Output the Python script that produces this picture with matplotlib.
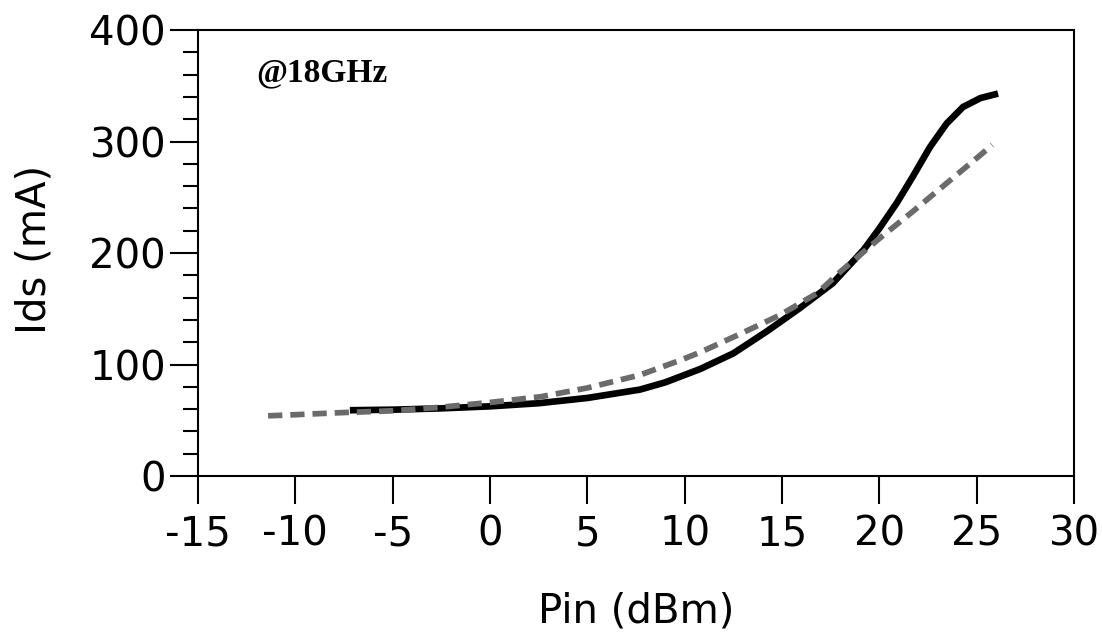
import matplotlib
matplotlib.use("Agg")
from matplotlib import pyplot as plt
from matplotlib.ticker import MultipleLocator

plt.rcParams["font.family"] = "DejaVu Sans"
plt.rcParams["axes.unicode_minus"] = False

# measured Ids vs Pin (solid)
pin_meas = [-7.2, -5, -2.5, 0, 2.5, 5, 7.7, 9, 10.8, 12.5, 14.2, 15.9, 17.6, 18.3, 19.2, 20, 20.9, 21.7, 22.6, 23.45, 24.3, 25.2, 26.1]
ids_meas = [59, 59.5, 60.7, 62.5, 65.3, 70, 77.5, 84, 96, 110, 129.5, 150.4, 172.8, 186, 203, 222, 245, 268, 295, 316, 331, 339, 343]

# simulated Ids vs Pin (dashed)
pin_sim = [-11.4, -10, -7.7, -5, -2.6, 0, 2.6, 5, 7.7, 9.8, 10.8, 12.8, 14.9, 16.8, 18.1, 20, 21.7, 23.45, 25.2, 25.8]
ids_sim = [54, 55, 56.8, 58.5, 61.6, 66, 71.1, 79, 90.6, 104, 111, 127, 144.4, 163.9, 184.8, 213, 237, 262.5, 288, 297]

fig = plt.figure(figsize=(11.02, 6.32), dpi=100)
ax = fig.add_axes([0.1797, 0.2468, 0.7949, 0.7057])

ax.plot(pin_meas, ids_meas, color="black", lw=4.8, solid_capstyle="butt",
        solid_joinstyle="round", zorder=2)
ax.plot(pin_sim, ids_sim, color="#6b6b6b", lw=4.1, dashes=(2.5, 1.4),
        dash_capstyle="butt", zorder=3)

ax.set_xlim(-15, 30)
ax.set_ylim(0, 400)
ax.xaxis.set_major_locator(MultipleLocator(5))
ax.yaxis.set_major_locator(MultipleLocator(100))
ax.yaxis.set_minor_locator(MultipleLocator(20))

for s in ax.spines.values():
    s.set_linewidth(1.5)
ax.tick_params(axis="x", which="major", direction="out", length=20, width=1.5, pad=8, labelsize=29)
ax.tick_params(axis="y", which="major", direction="out", length=20, width=1.5, pad=3, labelsize=29)
ax.tick_params(axis="y", which="minor", direction="out", length=11, width=1.5)

ax.set_xlabel("Pin (dBm)", fontsize=29, va="center")
ax.xaxis.set_label_coords(0.5, -0.303)
ax.set_ylabel("Ids (mA)", fontsize=29, va="center")
ax.yaxis.set_label_coords(-0.187, 0.507)

ax.text(0.066, 0.905, "@18GHz", transform=ax.transAxes, fontsize=24,
        fontweight="bold", family="Liberation Serif", va="center")

fig.savefig("out.png", dpi=100)
